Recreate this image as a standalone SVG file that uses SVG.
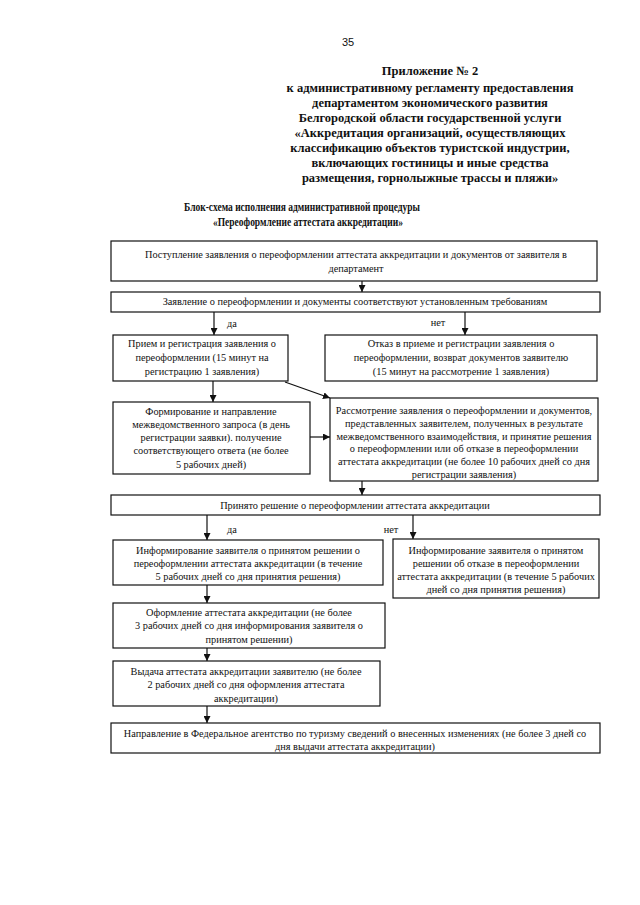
<svg xmlns="http://www.w3.org/2000/svg" width="640" height="905" viewBox="0 0 640 905">
<style>
.bg{fill:#fff}
.box{fill:#fff;stroke:#111;stroke-width:1.2}
.t{font-family:"Liberation Serif","Times New Roman",serif;font-size:10.3px;fill:#111;text-anchor:middle}
.h{font-family:"Liberation Serif","Times New Roman",serif;font-size:12.5px;font-weight:bold;fill:#111;text-anchor:middle}
.ti{font-family:"Liberation Serif","Times New Roman",serif;font-size:12.5px;font-weight:bold;fill:#111;text-anchor:middle}
.pn{font-family:"Liberation Sans",Arial,sans-serif;font-size:11px;fill:#111;text-anchor:middle}
.c{stroke:#111;stroke-width:1.2;fill:none}
</style>
<defs>
<marker id="ah" viewBox="0 0 10 10" refX="10" refY="5" markerWidth="7" markerHeight="7" markerUnits="userSpaceOnUse" orient="auto">
<path d="M0,0 L10,5 L0,10 z" fill="#111"/>
</marker>
</defs>
<rect class="bg" x="0" y="0" width="640" height="905"/>
<text class="pn" x="348" y="46">35</text>
<g id="header">
<text class="h" x="430" y="75">Приложение № 2</text>
<text class="h" x="430" y="92">к административному регламенту предоставления</text>
<text class="h" x="430" y="107">департаментом экономического развития</text>
<text class="h" x="430" y="122">Белгородской области государственной услуги</text>
<text class="h" x="430" y="137">«Аккредитация организаций, осуществляющих</text>
<text class="h" x="430" y="152">классификацию объектов туристской индустрии,</text>
<text class="h" x="430" y="167">включающих гостиницы и иные средства</text>
<text class="h" x="430" y="182">размещения, горнолыжные трассы и пляжи»</text>
<text class="ti" x="302" y="211" textLength="236" lengthAdjust="spacingAndGlyphs">Блок-схема исполнения административной процедуры</text>
<text class="ti" x="308" y="226" textLength="190" lengthAdjust="spacingAndGlyphs">«Переоформление аттестата аккредитации»</text>
</g>
<g id="n1">
<rect class="box" x="111" y="241" width="486" height="40"/>
<text class="t" x="356" y="258">Поступление заявления о переоформлении аттестата аккредитации и документов от заявителя в</text>
<text class="t" x="356" y="272">департамент</text>
</g>
<g id="n2">
<rect class="box" x="111" y="292" width="489" height="20"/>
<text class="t" x="355" y="305">Заявление о переоформлении и документы соответствуют установленным требованиям</text>
</g>
<g id="n3">
<rect class="box" x="113" y="335" width="175" height="46"/>
<text class="t" x="202" y="347">Прием и регистрация заявления о</text>
<text class="t" x="202" y="361">переоформлении (15 минут на</text>
<text class="t" x="202" y="375">регистрацию 1 заявления)</text>
</g>
<g id="n4">
<rect class="box" x="325" y="335" width="272" height="46"/>
<text class="t" x="461" y="347">Отказ в приеме и регистрации заявления о</text>
<text class="t" x="461" y="361">переоформлении, возврат документов заявителю</text>
<text class="t" x="461" y="375">(15 минут на рассмотрение 1 заявления)</text>
</g>
<g id="n5">
<rect class="box" x="113" y="402" width="197" height="72"/>
<text class="t" x="211" y="415">Формирование и направление</text>
<text class="t" x="211" y="428">межведомственного запроса (в день</text>
<text class="t" x="211" y="441">регистрации заявки). получение</text>
<text class="t" x="211" y="454">соответствующего ответа (не более</text>
<text class="t" x="211" y="468">5 рабочих дней)</text>
</g>
<g id="n6">
<rect class="box" x="330" y="398" width="268" height="83"/>
<text class="t" x="464" y="414">Рассмотрение заявления о переоформлении и документов,</text>
<text class="t" x="464" y="427">представленных заявителем, полученных в результате</text>
<text class="t" x="464" y="440">межведомственного взаимодействия, и принятие решения</text>
<text class="t" x="464" y="452">о переоформлении или об отказе в переоформлении</text>
<text class="t" x="464" y="465">аттестата аккредитации (не более 10 рабочих дней со дня</text>
<text class="t" x="464" y="478">регистрации заявления)</text>
</g>
<g id="n7">
<rect class="box" x="111" y="495" width="489" height="20"/>
<text class="t" x="355" y="509">Принято решение о переоформлении аттестата аккредитации</text>
</g>
<g id="n8">
<rect class="box" x="113" y="540" width="270" height="45"/>
<text class="t" x="248" y="554">Информирование заявителя о принятом решении о</text>
<text class="t" x="248" y="567">переоформлении аттестата аккредитации (в течение</text>
<text class="t" x="248" y="580">5 рабочих дней со дня принятия решения)</text>
</g>
<g id="n9">
<rect class="box" x="393" y="539" width="206" height="59"/>
<text class="t" x="496" y="554">Информирование заявителя о принятом</text>
<text class="t" x="496" y="567">решении об отказе в переоформлении</text>
<text class="t" x="496" y="580">аттестата аккредитации (в течение 5 рабочих</text>
<text class="t" x="496" y="593">дней со дня принятия решения)</text>
</g>
<g id="n10">
<rect class="box" x="113" y="603" width="272" height="45"/>
<text class="t" x="249" y="616">Оформление аттестата аккредитации (не более</text>
<text class="t" x="249" y="629">3 рабочих дней со дня информирования заявителя о</text>
<text class="t" x="249" y="643">принятом решении)</text>
</g>
<g id="n11">
<rect class="box" x="113" y="661" width="267" height="45"/>
<text class="t" x="246" y="675">Выдача аттестата аккредитации заявителю (не более</text>
<text class="t" x="246" y="688">2 рабочих дней со дня оформления аттестата</text>
<text class="t" x="246" y="702">аккредитации)</text>
</g>
<g id="n12">
<rect class="box" x="111" y="723" width="489" height="30"/>
<text class="t" x="355" y="737">Направление в Федеральное агентство по туризму сведений о внесенных изменениях (не более 3 дней со</text>
<text class="t" x="355" y="750">дня выдачи аттестата аккредитации)</text>
</g>
<g id="connectors">
<line class="c" x1="362" y1="281" x2="362" y2="292" marker-end="url(#ah)"/>
<line class="c" x1="214" y1="312" x2="214" y2="335" marker-end="url(#ah)"/>
<line class="c" x1="465" y1="312" x2="465" y2="335" marker-end="url(#ah)"/>
<line class="c" x1="213" y1="381" x2="213" y2="402" marker-end="url(#ah)"/>
<line class="c" x1="285" y1="382" x2="330" y2="398" marker-end="url(#ah)"/>
<line class="c" x1="310" y1="437" x2="330" y2="437" marker-end="url(#ah)"/>
<line class="c" x1="362" y1="481" x2="362" y2="495" marker-end="url(#ah)"/>
<line class="c" x1="207" y1="515" x2="207" y2="540" marker-end="url(#ah)"/>
<line class="c" x1="413" y1="515" x2="413" y2="539" marker-end="url(#ah)"/>
<line class="c" x1="207" y1="585" x2="207" y2="603" marker-end="url(#ah)"/>
<line class="c" x1="207" y1="648" x2="207" y2="661" marker-end="url(#ah)"/>
<line class="c" x1="207" y1="706" x2="207" y2="723" marker-end="url(#ah)"/>
<text class="t" x="232" y="327">да</text>
<text class="t" x="438" y="326">нет</text>
<text class="t" x="232" y="533">да</text>
<text class="t" x="391" y="533">нет</text>
</g>
</svg>
